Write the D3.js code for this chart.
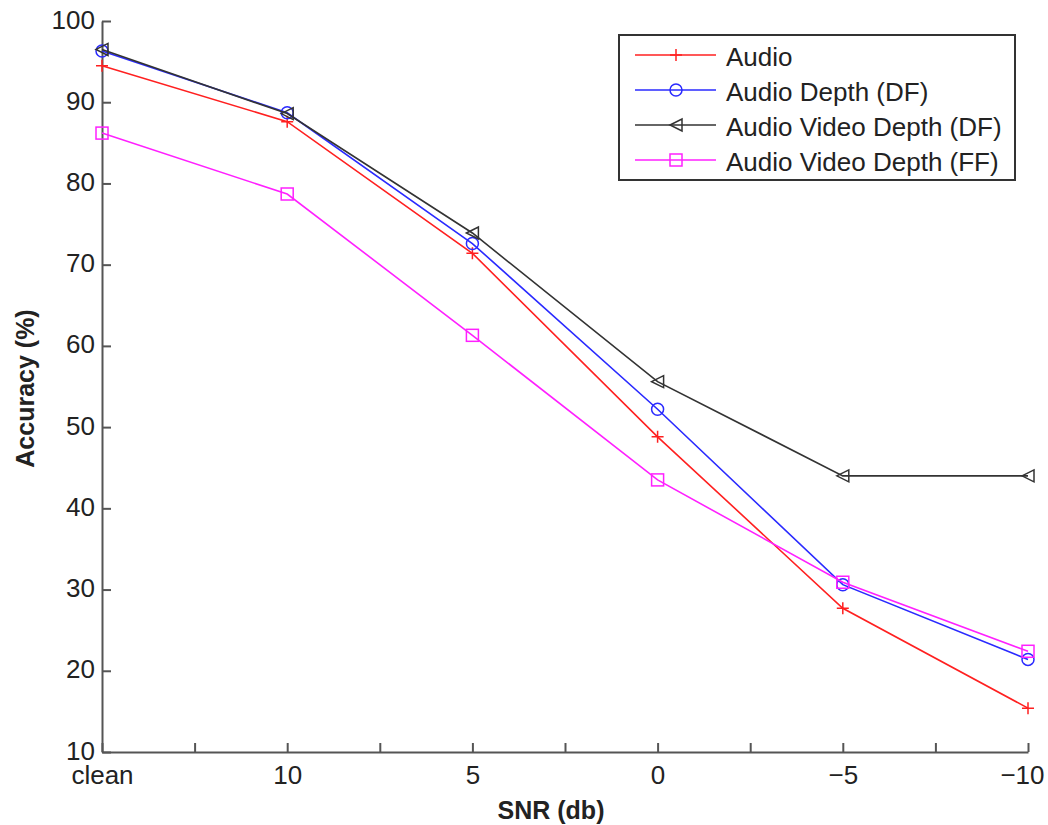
<!DOCTYPE html>
<html>
<head>
<meta charset="utf-8">
<script src="https://cdn.jsdelivr.net/npm/d3@7"></script>
<style>
  body { margin: 0; background: #fff; }
  svg { display: block; font-family: "Liberation Sans", Arial, sans-serif; }
</style>
</head>
<body>
<div class="chartDiv"></div>
<script>

// ---------------- data ----------------
let snrLabels = ["clean", "10", "5", "0", "\u22125", "\u221210"];
let yTicks = [10, 20, 30, 40, 50, 60, 70, 80, 90, 100];

let audio = [94.5, 87.6, 71.4, 48.8, 27.7, 15.4];
let audioDepthDF = [96.3, 88.7, 72.6, 52.2, 30.6, 21.4];
let avDepthDF = [96.5, 88.6, 73.9, 55.6, 44.0, 44.0];
let avDepthFF = [86.2, 78.7, 61.3, 43.5, 30.9, 22.4];

let series = [
  {name: "Audio", values: audio, color: "#ff2020", marker: "plus"},
  {name: "Audio Depth (DF)", values: audioDepthDF, color: "#2a2aff", marker: "circle"},
  {name: "Audio Video Depth (DF)", values: avDepthDF, color: "#333333", marker: "triangle"},
  {name: "Audio Video Depth (FF)", values: avDepthFF, color: "#ff20ff", marker: "square"}
];

// ---------------- setup ----------------
let W = 1048, H = 825;
let margin = {top: 21, right: 20, bottom: 73, left: 102};
let width = W - margin.left - margin.right,
    height = H - margin.top - margin.bottom;

let x = d3.scaleLinear().domain([0, snrLabels.length - 1]).range([0, width]);
let y = d3.scaleLinear().domain([10, 100]).range([height, 0]);

let svg = d3.select(".chartDiv").append("svg")
    .attr("width", W)
    .attr("height", H)
  .append("g")
    .attr("transform", "translate(" + margin.left + "," + margin.top + ")");

let axisColor = "#555";
let textColor = "#222";

// x axis: ticks every half step, labels only at categories
let xTickVals = d3.range(0, snrLabels.length - 0.99, 0.5);
let xAxis = d3.axisBottom(x)
    .tickValues(xTickVals)
    .tickSizeInner(-9)
    .tickSizeOuter(0)
    .tickPadding(23)
    .tickFormat(d => Number.isInteger(d) ? snrLabels[d] : "");

let gx = svg.append("g")
    .attr("transform", "translate(0," + height + ")")
    .call(xAxis);

let yAxis = d3.axisLeft(y)
    .tickValues(yTicks)
    .tickSizeInner(-9)
    .tickSizeOuter(0)
    .tickPadding(7);

let gy = svg.append("g").call(yAxis);

[gx, gy].forEach(g => {
  g.select(".domain").attr("stroke", axisColor).attr("stroke-width", 2);
  g.selectAll(".tick line").attr("stroke", axisColor).attr("stroke-width", 2);
  g.selectAll(".tick text")
    .attr("fill", textColor)
    .style("font-size", "26px");
});
gy.selectAll(".tick text").attr("dy", "0.27em");
gx.selectAll(".tick text").attr("dy", "0.35em");
// last label would run past the right edge: keep it inside like the original
gx.selectAll(".tick text").filter(d => d === snrLabels.length - 1)
    .attr("text-anchor", "end")
    .attr("dx", 16);

// axis titles
svg.append("text")
    .attr("x", width / 2 - 14)
    .attr("y", height + 67)
    .attr("text-anchor", "middle")
    .style("font-size", "25px")
    .style("font-weight", "bold")
    .attr("fill", textColor)
    .text("SNR (db)");

svg.append("text")
    .attr("transform", "translate(" + (-68) + "," + (height / 2 + 2) + ") rotate(-90)")
    .attr("text-anchor", "middle")
    .style("font-size", "25px")
    .style("font-weight", "bold")
    .attr("fill", textColor)
    .text("Accuracy (%)");

// ---------------- markers ----------------
function drawMarker(g, type, cx, cy, color) {
  let s = 6;
  if (type === "plus") {
    g.append("path")
      .attr("d", `M${cx - s},${cy}H${cx + s}M${cx},${cy - s}V${cy + s}`)
      .attr("stroke", color).attr("stroke-width", 1.5).attr("fill", "none");
  } else if (type === "circle") {
    g.append("circle")
      .attr("cx", cx).attr("cy", cy).attr("r", s)
      .attr("stroke", color).attr("stroke-width", 1.5).attr("fill", "none");
  } else if (type === "square") {
    g.append("rect")
      .attr("x", cx - s).attr("y", cy - s).attr("width", 2 * s).attr("height", 2 * s)
      .attr("stroke", color).attr("stroke-width", 1.5).attr("fill", "none");
  } else if (type === "triangle") {
    g.append("path")
      .attr("d", `M${cx - s},${cy}L${cx + s},${cy - s}L${cx + s},${cy + s}Z`)
      .attr("stroke", color).attr("stroke-width", 1.5).attr("fill", "none");
  }
}

// ---------------- lines ----------------
let line = d3.line()
    .x((d, i) => x(i))
    .y(d => y(d));

series.forEach(s => {
  let g = svg.append("g");
  g.append("path")
    .datum(s.values)
    .attr("d", line)
    .attr("fill", "none")
    .attr("stroke", s.color)
    .attr("stroke-width", 1.6);
  s.values.forEach((v, i) => drawMarker(g, s.marker, x(i), y(v), s.color));
});

// ---------------- legend ----------------
let legend = svg.append("g")
    .attr("transform", "translate(" + (619 - margin.left) + "," + (35 - margin.top) + ")");

legend.append("rect")
    .attr("width", 396)
    .attr("height", 145)
    .attr("fill", "#fff")
    .attr("stroke", "#333")
    .attr("stroke-width", 2);

series.forEach((s, i) => {
  let ly = 20 + i * 35;
  legend.append("line")
    .attr("x1", 16).attr("x2", 97)
    .attr("y1", ly).attr("y2", ly)
    .attr("stroke", s.color)
    .attr("stroke-width", 1.6);
  drawMarker(legend, s.marker, 57, ly, s.color);
  legend.append("text")
    .attr("x", 107)
    .attr("y", ly + 2)
    .attr("dy", "0.36em")
    .style("font-size", "26px")
    .attr("fill", textColor)
    .text(s.name);
});

</script>
</body>
</html>
